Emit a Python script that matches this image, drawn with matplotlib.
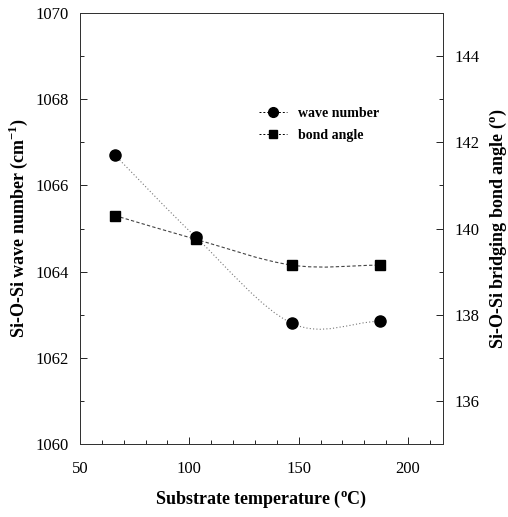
import numpy as np
import matplotlib
matplotlib.use("Agg")
import matplotlib.pyplot as plt
from matplotlib.path import Path
from matplotlib.patches import PathPatch
from matplotlib.ticker import MultipleLocator
from matplotlib.lines import Line2D

plt.rcParams['font.family'] = ['Liberation Serif', 'DejaVu Serif']

# Data
temperature = [66, 103, 147, 187]
wave_number = [1066.7, 1064.8, 1062.8, 1062.85]
bond_angle = [140.3, 139.75, 139.15, 139.15]


def smooth_path(xs, ys):
    # Catmull-Rom through the points, handed to matplotlib as cubic Bezier segments
    pts = np.column_stack([xs, ys]).astype(float)
    ext = np.vstack([pts[0] - (pts[1] - pts[0]), pts, pts[-1] + (pts[-1] - pts[-2])])
    verts = [tuple(pts[0])]
    codes = [Path.MOVETO]
    for i in range(1, len(ext) - 2):
        p0, p1, p2, p3 = ext[i - 1], ext[i], ext[i + 1], ext[i + 2]
        c1 = p1 + (p2 - p0) / 6.0
        c2 = p2 - (p3 - p1) / 6.0
        verts += [tuple(c1), tuple(c2), tuple(p2)]
        codes += [Path.CURVE4] * 3
    return Path(verts, codes)


fig = plt.figure(figsize=(5.08, 5.17), dpi=100)
ax = fig.add_axes([0.1575, 0.141, 0.7145, 0.834])
ax2 = ax.twinx()

ax.set_xlim(50, 216)
ax.set_ylim(1060, 1070)
ax2.set_ylim(135, 145)

ax.add_patch(PathPatch(smooth_path(temperature, wave_number), fill=False,
                       ls=(0, (1, 2)), lw=0.8, color='#777777'))
ax2.add_patch(PathPatch(smooth_path(temperature, bond_angle), fill=False,
                        ls=(0, (3, 2)), lw=0.8, color='#444444'))
ax.plot(temperature, wave_number, 'o', color='black', ms=8, ls='none')
ax2.plot(temperature, bond_angle, 's', color='black', ms=7, ls='none')

ax.xaxis.set_major_locator(MultipleLocator(50))
ax.xaxis.set_minor_locator(MultipleLocator(10))
ax.yaxis.set_major_locator(MultipleLocator(2))
ax.yaxis.set_minor_locator(MultipleLocator(1))
ax2.yaxis.set_major_locator(MultipleLocator(2))
ax2.yaxis.set_minor_locator(MultipleLocator(1))

for a in (ax, ax2):
    a.tick_params(which='both', direction='in', labelsize=12, width=0.6)
    a.tick_params(which='major', length=5)
    a.tick_params(which='minor', length=3)
    for s in a.spines.values():
        s.set_linewidth(0.7)
        s.set_color('#333333')
ax.tick_params(axis='x', pad=12)
ax.tick_params(axis='y', pad=8)
ax2.tick_params(axis='y', pad=8)

ax.set_xlabel('Substrate temperature ($^{\\mathregular{o}}$C)', fontsize=13,
              fontweight='bold', labelpad=9)
ax.set_ylabel('Si-O-Si wave number (cm$^{\\mathregular{-1}}$)', fontsize=13,
              fontweight='bold', labelpad=4)
ax2.set_ylabel('Si-O-Si bridging bond angle ($^{\\mathregular{o}}$)', fontsize=13,
               fontweight='bold', labelpad=6)

handles = [Line2D([], [], color='black', marker='o', ms=7, ls=(0, (2, 2)), lw=0.7),
           Line2D([], [], color='black', marker='s', ms=6, ls=(0, (2, 2)), lw=0.7)]
leg = ax.legend(handles, ['wave number', 'bond angle'], loc='upper left',
                bbox_to_anchor=(0.46, 0.81), frameon=False, handlelength=2.0,
                prop={'weight': 'bold', 'size': 10}, labelspacing=0.6)

fig.savefig('out.png', dpi=100)
